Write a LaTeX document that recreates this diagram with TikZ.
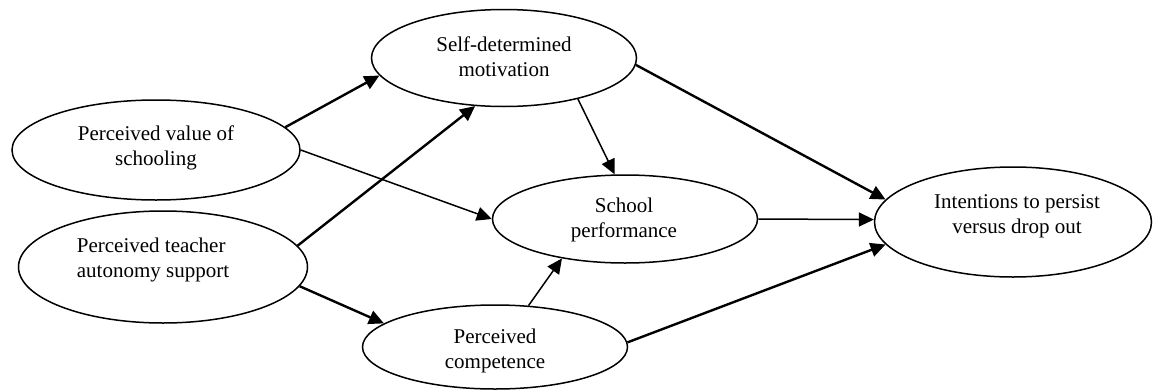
\documentclass[tikz,border=0pt]{standalone}
\usepackage{fontspec}
\setmainfont{Liberation Serif}
\usetikzlibrary{shapes.geometric,arrows.meta}
\begin{document}
\begin{tikzpicture}[x=1pt,y=-1pt,
  oval/.style={draw, ellipse, line width=1.5pt, inner sep=0pt},
  lbl/.style={font=\fontsize{21}{25}\selectfont, align=center, inner sep=0pt},
  thickarr/.style={line width=2.4pt, -{Triangle[length=15pt,width=14pt]}},
  thinarr/.style={line width=1.5pt, -{Triangle[length=15pt,width=14pt]}}]
\useasboundingbox (0,0) rectangle (1154,391);
% ellipses
\node[oval, minimum width=288pt, minimum height=100pt] (value) at (156,150) {};
\node[oval, minimum width=289pt, minimum height=112pt] (teacher) at (163,267) {};
\node[oval, minimum width=265pt, minimum height=97pt] (selfdet) at (504,58) {};
\node[oval, minimum width=265pt, minimum height=88pt] (school) at (625,219) {};
\node[oval, minimum width=265pt, minimum height=84pt] (comp) at (495,347) {};
\node[oval, minimum width=277pt, minimum height=110pt] (intent) at (1013,222) {};
% texts
\node[lbl] (tvalue) at (156,148) {Perceived value of\\schooling};
\node[lbl, align=left] (tteacher) at (153,260) {Perceived teacher\\autonomy support};
\node[lbl] (tselfdet) at (504,57) {Self-determined\\motivation};
\node[lbl] (tschool) at (624,220) {School\\performance};
\node[lbl] (tcomp) at (495,351) {Perceived\\competence};
\node[lbl] (tintent) at (1017,216) {Intentions to persist\\versus drop out};
% arrows
\draw[thickarr] (value.10) -- (selfdet.188);
\draw[thinarr] (value.east) -- (school.west);
\draw[thickarr] (teacher.9) -- (selfdet.239);
\draw[thickarr] (teacher.-8) -- (comp.168);
\draw[thinarr] (selfdet.-29) -- (school.103);
\draw[thinarr] (comp.51) -- (school.212);
\draw[thickarr] (selfdet.-3) -- (intent.170);
\draw[thinarr] (school.east) -- (intent.179);
\draw[thickarr] (comp.2) -- (intent.190);
\end{tikzpicture}
\end{document}
